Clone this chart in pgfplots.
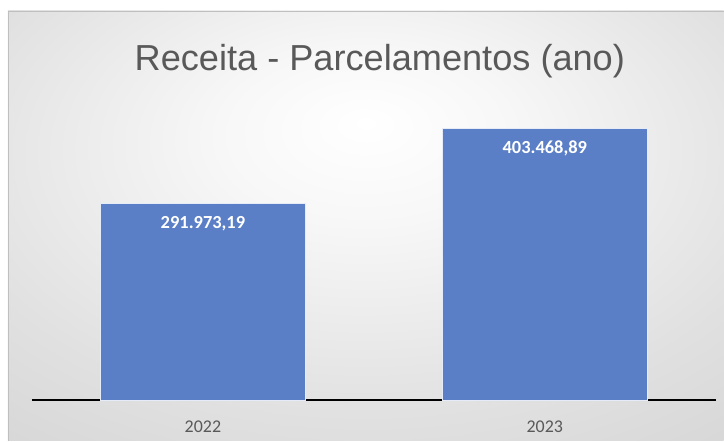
\documentclass[border=0pt]{standalone}
\usepackage{pgfplots}
\pgfplotsset{compat=1.18}
\usepackage{fontspec}
\setmainfont{Carlito}
\newfontfamily\titlefont{Liberation Sans}
\definecolor{barblue}{HTML}{5A7FC7}
\definecolor{txtgray}{HTML}{595959}
\pgfdeclareradialshading{bgshade}{\pgfpoint{0bp}{12bp}}{%
  color(0bp)=(white);
  color(10bp)=(white!97!black);
  color(30bp)=(black!12);
  color(50bp)=(black!19);
  color(65bp)=(black!27);
  color(80bp)=(black!30)}
\begin{document}
\begin{tikzpicture}[x=1bp,y=1bp]
\fill[white] (0,0) rectangle (724,441);
\shade[shading=bgshade] (8,0) rectangle (724,430);
\draw[black!25, line width=0.6bp] (8,0) -- (8,430) -- (724,430);
\node[anchor=center, text=txtgray, font={\titlefont\fontsize{36.3}{40}\selectfont}] at (380,380) {Receita - Parcelamentos (ano)};
\begin{axis}[
  at={(32bp,41bp)}, anchor=south west,
  scale only axis,
  width=684bp, height=302.8bp,
  xmin=-0.5, xmax=1.5,
  ymin=0, ymax=450000,
  axis y line=none,
  axis x line*=bottom,
  x axis line style={black, line width=1.8bp, -},
  xtick={0,1},
  xticklabels={2022,2023},
  major tick length=0pt,
  xticklabel style={text=txtgray, font=\fontsize{18}{20}\selectfont, yshift=-18bp},
  ybar,
  bar width=205.5bp,
  point meta=explicit symbolic,
  nodes near coords,
  every node near coord/.append style={anchor=center, yshift=-20bp, text=white, font=\bfseries\fontsize{18.5}{20}\selectfont},
  clip=false,
]
\addplot[fill=barblue, draw=white!85!barblue, line width=0.6bp] table[meta=label] {
x y label
0 291973.19 291.973,19
1 403468.89 403.468,89
};
\end{axis}
\end{tikzpicture}
\end{document}
